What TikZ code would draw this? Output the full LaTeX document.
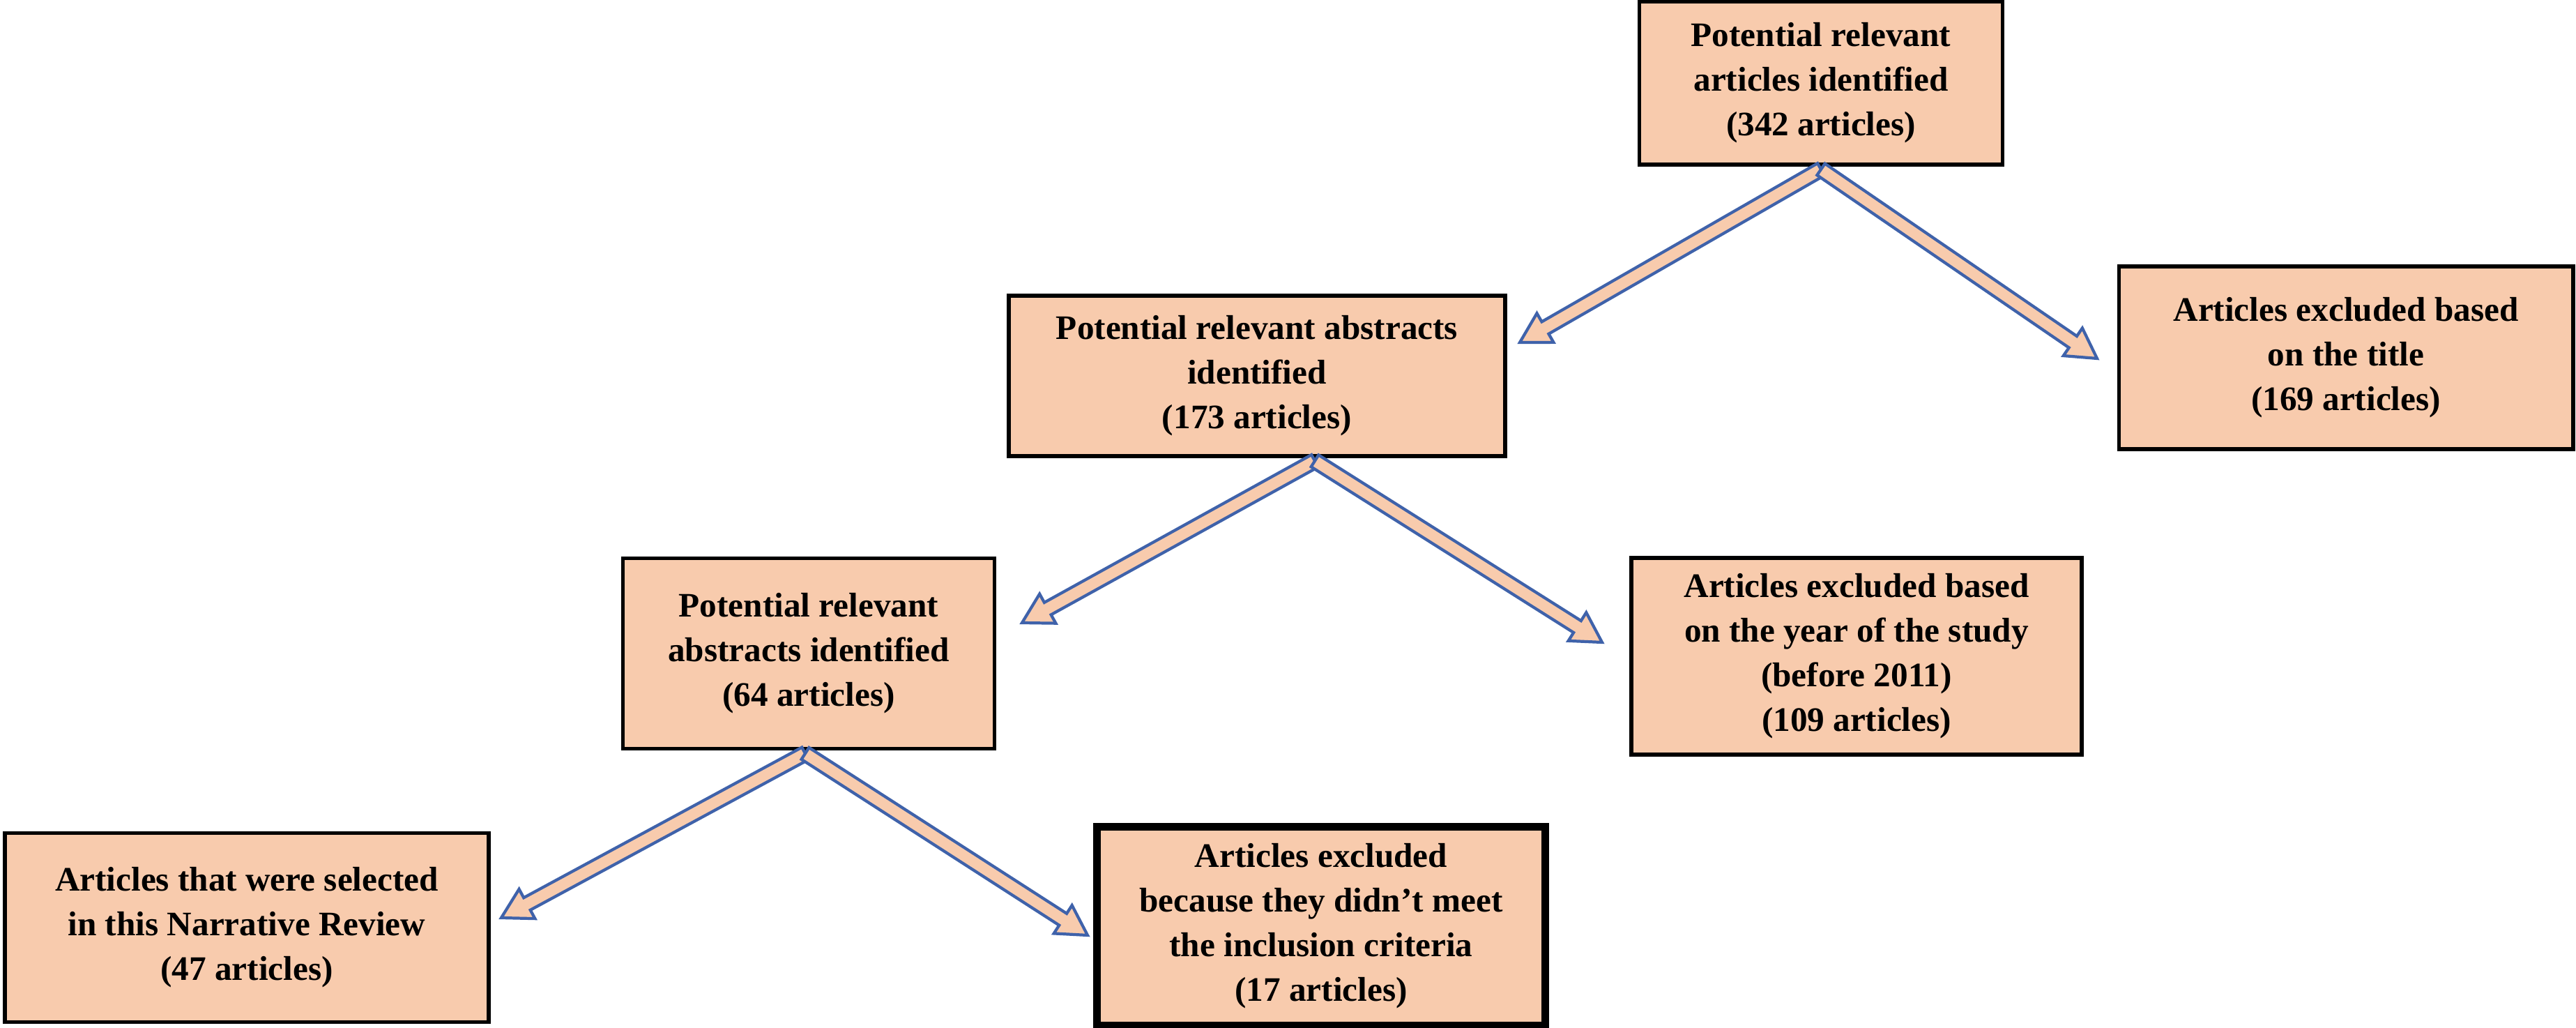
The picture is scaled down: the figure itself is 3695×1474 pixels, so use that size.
\documentclass[tikz,border=0pt]{standalone}
\usepackage{fontspec}
\setmainfont{Liberation Serif}
\usetikzlibrary{calc}
\definecolor{peach}{HTML}{F8CBAD}
\definecolor{arrowblue}{HTML}{3F62AA}
\newcommand\blockarr[2]{%
  \coordinate (hb) at ($(#2)!0.42cm!(#1)$);
  \filldraw[fill=peach,draw=arrowblue,line width=1.2pt,line join=miter]
    ($(#1)!0.1cm!90:(#2)$) -- ($(hb)!0.1cm!-90:(#1)$) -- ($(hb)!0.24cm!-90:(#1)$) -- (#2)
    -- ($(hb)!0.24cm!90:(#1)$) -- ($(hb)!0.1cm!90:(#1)$) -- ($(#1)!0.1cm!-90:(#2)$) -- cycle;}
\begin{document}
\begin{tikzpicture}[x=0.01cm,y=-0.01cm,
  box/.style={draw=black,line width=1.6pt,fill=peach,align=center,inner sep=0pt,
    font=\fontsize{14}{18.2}\selectfont\bfseries}]
\useasboundingbox (0,0) rectangle (3695,1474);
\node[box,minimum width=5.21cm,minimum height=2.34cm] (b1) at (2612,119) {Potential relevant\\articles identified\\(342 articles)};
\node[box,minimum width=7.12cm,minimum height=2.30cm] (b2) at (1803,539) {Potential relevant abstracts\\identified\\(173 articles)};
\node[box,minimum width=6.51cm,minimum height=2.62cm] (b3) at (3365,513) {Articles excluded based\\on the title\\(169 articles)};
\node[box,minimum width=5.33cm,minimum height=2.73cm] (b4) at (1160,937) {Potential relevant\\abstracts identified\\(64 articles)};
\node[box,minimum width=6.46cm,minimum height=2.82cm] (b5) at (2663,941) {Articles excluded based\\on the year of the study\\(before 2011)\\(109 articles)};
\node[box,minimum width=6.93cm,minimum height=2.71cm] (b6) at (354,1330) {Articles that were selected\\in this Narrative Review\\(47 articles)};
\node[box,line width=3.2pt,minimum width=6.42cm,minimum height=2.85cm] (b7) at (1895,1328) {Articles excluded\\because they didn’t meet\\the inclusion criteria\\(17 articles)};
\coordinate (s1) at ($(b1.south)+(0,4)$);
\coordinate (s2) at ($(b2.south)+(83,4)$);
\coordinate (s4) at ($(b4.south)+(-5,4)$);
\coordinate (t12) at (2180,491);
\coordinate (t13) at (3008,514);
\coordinate (t24) at (1466,893);
\coordinate (t25) at (2298,921);
\coordinate (t46) at (719,1316);
\coordinate (t47) at (1560,1341);
\blockarr{s1}{t12}
\blockarr{s1}{t13}
\blockarr{s2}{t24}
\blockarr{s2}{t25}
\blockarr{s4}{t46}
\blockarr{s4}{t47}
\end{tikzpicture}
\end{document}
